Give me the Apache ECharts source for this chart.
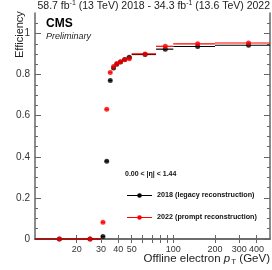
<!DOCTYPE html>
<html><head><meta charset="utf-8">
<script src="https://cdn.jsdelivr.net/npm/echarts@6/dist/echarts.min.js"></script>
<style>html,body{margin:0;padding:0;background:#fff}#c{width:272px;height:270px}</style>
</head><body><div id="c"></div>
<script>
// Bin edges (GeV) and efficiencies
const binLow  = [10, 20, 30, 32, 34, 36, 38, 40, 43, 46, 50, 75, 100, 200];
const binHigh = [20, 30, 32, 34, 36, 38, 40, 43, 46, 50, 75, 100, 200, 500];
const binCenter = [15, 25, 31, 33, 35, 37, 39, 41.5, 44.5, 48, 62.5, 87.5, 150, 350];
const eff2018 = [0, 0, 0.012, 0.379, 0.772, 0.832, 0.85, 0.862, 0.874, 0.885, 0.898, 0.924, 0.937, 0.943];
const eff2022 = [0, 0, 0.081, 0.631, 0.811, 0.84, 0.854, 0.863, 0.872, 0.877, 0.901, 0.938, 0.950, 0.954];
const xLabels = [20, 30, 40, 50, 100, 200, 300, 400];
const xTicks = [20, 30, 40, 50, 60, 70, 80, 90, 100, 200, 300, 400];
const yTicks = [0, 0.2, 0.4, 0.6, 0.8, 1];

const FONT = 'Liberation Sans';
function pts(vals){ return binCenter.map((x,i)=>[x, vals[i]]); }
function bars(vals){ return binLow.map((x,i)=>[x, binHigh[i], vals[i]]); }
function barSeries(vals, color){
  return {type:'custom', data:bars(vals), z:2, silent:true,
    renderItem:function(params, api){
      const p1 = api.coord([api.value(0), api.value(2)]);
      const p2 = api.coord([api.value(1), api.value(2)]);
      return {type:'line', shape:{x1:p1[0], y1:p1[1], x2:p2[0], y2:p2[1]},
        style:{stroke:color, lineWidth:1.2}};
    }};
}
const axisCommon = {
  type:'log', logBase:10, min:10, max:500,
  axisLine:{show:true, lineStyle:{color:'#666', width:1.5}},
  splitLine:{show:false}
};
const chart = echarts.init(document.getElementById('c'), null, {renderer:'canvas'});
chart.setOption({
  animation:false,
  grid:{left:35, right:2, top:13, bottom:31},
  xAxis:[
    Object.assign({}, axisCommon, {position:'bottom',
      axisTick:{show:true, inside:true, length:4, customValues:xTicks, lineStyle:{color:'#666'}},
      axisLabel:{show:true, customValues:xLabels, color:'#333', fontSize:9, fontFamily:FONT, margin:6,
        formatter:v=>String(Math.round(v))}}),
    Object.assign({}, axisCommon, {position:'top',
      axisTick:{show:true, inside:true, length:4, customValues:xTicks, lineStyle:{color:'#666'}},
      axisLabel:{show:false}})
  ],
  yAxis:[
    {type:'value', min:0, max:1.1, interval:0.2, position:'left',
     axisLine:{show:true, lineStyle:{color:'#666', width:1.5}},
     axisTick:{show:true, inside:true, length:6, customValues:yTicks, lineStyle:{color:'#666'}},
     minorTick:{show:true, splitNumber:4, length:3, lineStyle:{color:'#666'}},
     axisLabel:{color:'#333', fontSize:10, fontFamily:FONT, margin:5, customValues:yTicks,
       formatter:v=>v===0?'0':(v===1?'1':v.toFixed(1))},
     splitLine:{show:false}},
    {type:'value', min:0, max:1.1, interval:0.2, position:'right',
     axisLine:{show:true, lineStyle:{color:'#666', width:1.5}},
     axisTick:{show:true, inside:true, length:6, customValues:yTicks, lineStyle:{color:'#666'}},
     minorTick:{show:true, splitNumber:4, length:3, lineStyle:{color:'#666'}},
     axisLabel:{show:false}, splitLine:{show:false}}
  ],
  series:[
    barSeries(eff2018, '#000'),
    {type:'scatter', data:pts(eff2018), symbol:'circle', symbolSize:5, itemStyle:{color:'#000'}, z:3},
    barSeries(eff2022, '#ff0000'),
    {type:'scatter', data:pts(eff2022), symbol:'circle', symbolSize:5, itemStyle:{color:'#ff0000'}, z:4}
  ],
  graphic:[
    {type:'text', right:2, top:0, style:{
      text:'{a|58.7 fb}{s|-1}{a| (13 TeV) 2018 - 34.3 fb}{s|-1}{a| (13.6 TeV) 2022}',
      rich:{a:{fontSize:10.5, fontFamily:FONT, fill:'#222'}, s:{fontSize:7, fontFamily:FONT, fill:'#222', padding:[0,0,5,0]}}}},
    {type:'text', left:46, top:18, style:{text:'CMS', fontSize:12, fontWeight:'bold', fontFamily:FONT, fill:'#000'}},
    {type:'text', left:46, top:32, style:{text:'Preliminary', fontSize:9, fontStyle:'italic', fontFamily:FONT, fill:'#222'}},
    {type:'text', x:14, y:58, rotation:Math.PI/2, originX:0, originY:0,
      style:{text:'Efficiency', fontSize:11, fontFamily:FONT, fill:'#222', align:'left', verticalAlign:'top'}},
    {type:'text', right:2, top:253, style:{
      text:'{a|Offline electron }{p|p}{t|T}{a| (GeV)}',
      rich:{a:{fontSize:11.5, fontFamily:FONT, fill:'#222'}, p:{fontSize:11.5, fontStyle:'italic', fontFamily:FONT, fill:'#222'},
        t:{fontSize:8, fontFamily:FONT, fill:'#222', padding:[6,0,0,1]}}}},
    {type:'text', left:125, top:171, style:{text:'0.00 < |η| < 1.44', fontSize:7, fontWeight:'bold', fontFamily:FONT, fill:'#111'}},
    {type:'line', shape:{x1:127, y1:195.5, x2:152, y2:195.5}, style:{stroke:'#000', lineWidth:1}},
    {type:'circle', shape:{cx:139.5, cy:195.5, r:2.3}, style:{fill:'#000'}},
    {type:'text', left:157, top:191.5, style:{text:'2018 (legacy reconstruction)', fontSize:7.2, fontWeight:'bold', fontFamily:FONT, fill:'#111'}},
    {type:'line', shape:{x1:127, y1:217.5, x2:152, y2:217.5}, style:{stroke:'#ff0000', lineWidth:1}},
    {type:'circle', shape:{cx:139.5, cy:217.5, r:2.3}, style:{fill:'#ff0000'}},
    {type:'text', left:157, top:213.5, style:{text:'2022 (prompt reconstruction)', fontSize:7.2, fontWeight:'bold', fontFamily:FONT, fill:'#111'}}
  ]
});
</script></body></html>
